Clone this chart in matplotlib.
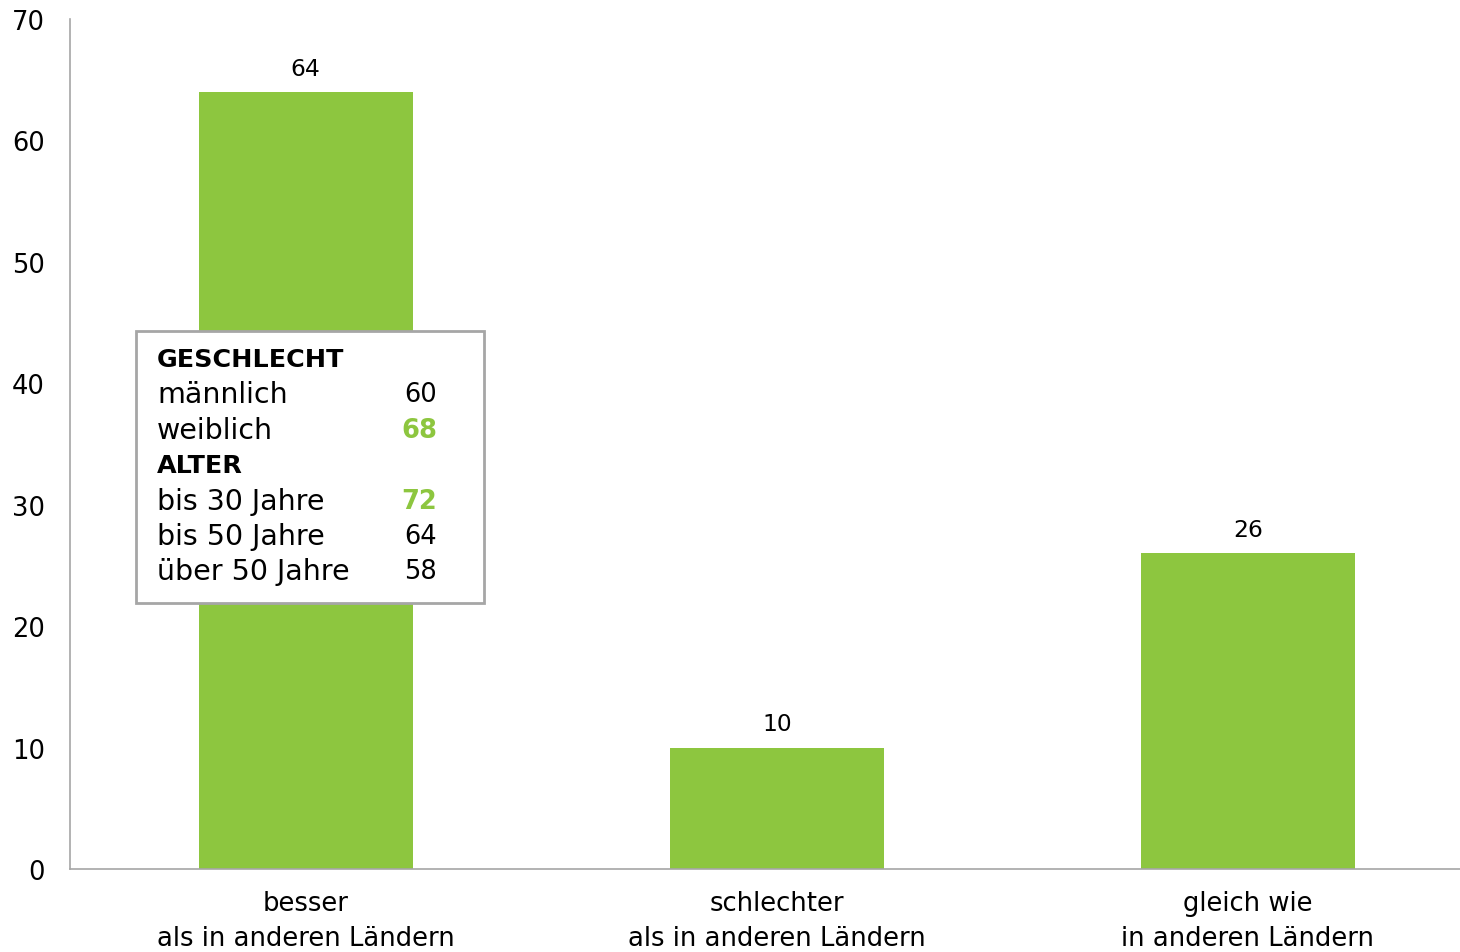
import matplotlib
matplotlib.use('Agg')
import matplotlib.pyplot as plt
from matplotlib.patches import Rectangle

# Daten
kategorien = ['besser\nals in anderen Ländern',
              'schlechter\nals in anderen Ländern',
              'gleich wie\nin anderen Ländern']
werte = [64, 10, 26]
yticks = [0, 10, 20, 30, 40, 50, 60, 70]

# Infobox (Balken "besser")
box_zeilen = ['GESCHLECHT', 'männlich', 'weiblich', 'ALTER',
              'bis 30 Jahre', 'bis 50 Jahre', 'über 50 Jahre']
box_werte = ['', '60', '68', '', '72', '64', '58']
box_fett = [True, False, False, True, False, False, False]
box_hervor = [False, False, True, False, True, False, False]

GRUEN = '#8DC63F'
W, H = 1460, 953

plt.rcParams['font.family'] = ['DejaVu Sans']
fig = plt.figure(figsize=(W / 100, H / 100), dpi=100)
ax = fig.add_axes([70 / W, 1 - 870 / H, 1 - 70 / W, (870 - 20) / H])

x = range(len(werte))
bars = ax.bar(x, werte, width=0.454, color=GRUEN, zorder=2)
for b, v in zip(bars, werte):
    ax.annotate(str(v), (b.get_x() + b.get_width() / 2, v),
                xytext=(0, 17), textcoords='offset points',
                ha='center', va='center', fontsize=16.8, color='#000000')

ax.set_xlim(-0.5, 2.45)
ax.set_ylim(0, 70)
ax.set_yticks(yticks)
ax.set_yticklabels([str(t) for t in yticks], fontsize=18.5)
ax.set_xticks(list(x))
ax.set_xticklabels(kategorien, fontsize=18.6, linespacing=1.45)
ax.tick_params(axis='y', length=0, pad=18)
ax.tick_params(axis='x', length=0, pad=15)
for s in ['top', 'right']:
    ax.spines[s].set_visible(False)
for s in ['left', 'bottom']:
    ax.spines[s].set_color('#a6a6a6')
    ax.spines[s].set_linewidth(1.2)

# Infobox zeichnen
fig.patches.append(Rectangle((136 / W, 1 - 604 / H), (484 - 136) / W, (604 - 332) / H,
                             transform=fig.transFigure, facecolor='white',
                             edgecolor='#a6a6a6', linewidth=2, zorder=5))
y0, dy = 360, 35.4
for i, (txt, val) in enumerate(zip(box_zeilen, box_werte)):
    yy = 1 - (y0 + i * dy) / H
    fig.text(157 / W, yy, txt, fontsize=18.3 if box_fett[i] else 20.5,
             va='center', ha='left',
             fontweight='bold' if box_fett[i] else 'normal', zorder=6)
    if val:
        fig.text(437 / W, yy, val, fontsize=18.5, va='center', ha='right',
                 color=GRUEN if box_hervor[i] else '#000000',
                 fontweight='bold' if box_hervor[i] else 'normal', zorder=6)

fig.savefig('out.png', dpi=100)
